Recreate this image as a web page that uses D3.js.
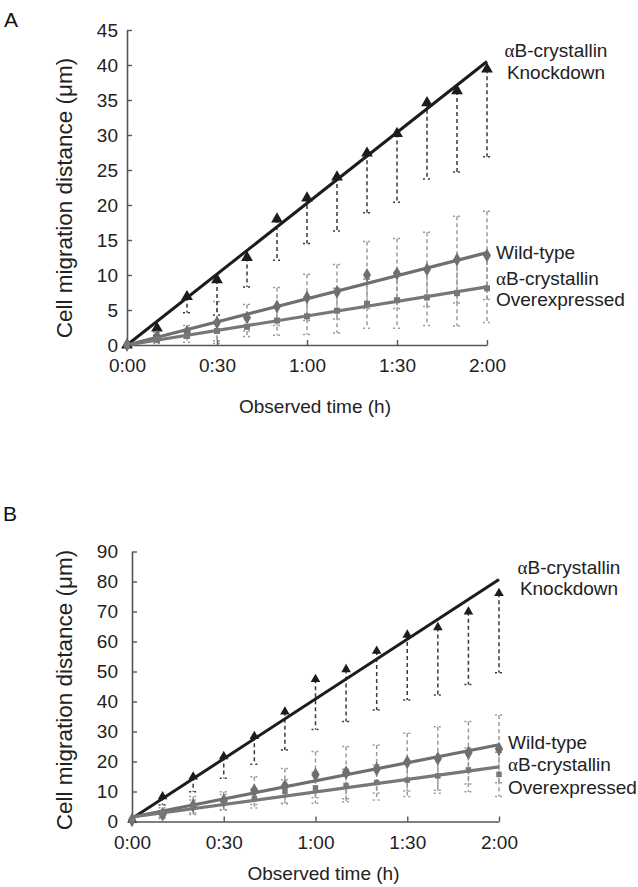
<!DOCTYPE html>
<html>
<head>
<meta charset="utf-8">
<script src="https://cdn.jsdelivr.net/npm/d3@7"></script>
<style>
  body { margin: 0; background: #fff; }
  svg { display: block; font-family: "Liberation Sans", Arial, sans-serif; }
</style>
</head>
<body>
<svg id="chart" width="638" height="887"></svg>
<script>
// ---- data (minutes after start) ----
const minutes = [0, 10, 20, 30, 40, 50, 60, 70, 80, 90, 100, 110, 120];
const xTickValues = [0, 30, 60, 90, 120];
const xTickLabels = ["0:00", "0:30", "1:00", "1:30", "2:00"];
const yTicksA = [0, 5, 10, 15, 20, 25, 30, 35, 40, 45];
const yTicksB = [0, 10, 20, 30, 40, 50, 60, 70, 80, 90];
const seriesNames = ["Knockdown", "Wild-type", "Overexpressed"];

// Panel A
const knockdownA   = [0, 2.4, 6.9, 9.3, 12.5, 18.0, 21.0, 24.0, 27.4, 30.2, 34.6, 36.3, 39.4];
const knockdownSdA = [0, 1.0, 2.3, 5.0, 4.2, 5.9, 6.5, 7.7, 8.5, 9.8, 10.9, 11.6, 12.5];
const wildTypeA    = [0, 1.2, 1.9, 3.2, 3.9, 5.5, 6.8, 7.6, 10.0, 10.2, 10.8, 12.2, 12.8];
const wildTypeSdA  = [0, 0.6, 0.9, 3.0, 1.9, 2.7, 3.3, 3.9, 4.8, 5.0, 5.3, 6.2, 6.3];
const overexpA     = [0, 0.7, 1.3, 2.0, 2.6, 3.5, 4.1, 4.9, 5.9, 6.4, 6.8, 7.4, 8.1];
const overexpSdA   = [0, 0.5, 0.9, 1.4, 1.4, 2.1, 2.6, 3.2, 3.5, 4.0, 4.0, 4.7, 4.9];
const fitStartA    = [0, 0, 0];
const fitEndA      = [40.5, 13.2, 8.3];

// Panel B
const knockdownB   = [0.5, 8.3, 14.9, 21.7, 28.4, 36.6, 47.4, 50.7, 56.8, 62.2, 64.7, 69.9, 76.1];
const knockdownSdB = [0, 2.8, 5.0, 7.3, 9.3, 12.8, 16.7, 17.4, 19.6, 21.7, 22.5, 24.2, 26.5];
const wildTypeB    = [0.5, 2.4, 5.3, 6.9, 10.3, 11.8, 15.6, 16.3, 17.5, 19.8, 21.0, 22.9, 24.2];
const wildTypeSdB  = [0, 1.0, 3.0, 3.0, 4.6, 5.9, 7.7, 8.7, 8.0, 9.6, 10.6, 10.4, 11.3];
const overexpB     = [0.5, 2.8, 5.0, 6.4, 7.7, 10.0, 11.2, 12.0, 13.0, 13.8, 15.2, 17.2, 15.7];
const overexpSdB   = [0, 1.8, 2.2, 2.6, 3.2, 3.9, 5.1, 5.4, 5.8, 5.5, 5.8, 7.3, 7.4];
const fitStartB    = [1.0, 1.5, 1.5];
const fitEndB      = [80.7, 25.6, 18.2];

// ---- drawing ----
const svg = d3.select("#chart");
const DARK = "#1c1c1c", GRAY = "#6f6f6f", BAR_DARK = "#3a3a3a", BAR_GRAY = "#9a9a9a";

function drawPanel(p) {
  const x = d3.scaleLinear().domain([0, 120]).range(p.xRange);
  const y = d3.scaleLinear().domain([0, p.yMax]).range(p.yRange);
  const g = svg.append("g");

  // panel letter
  g.append("text").attr("x", p.letter[1]).attr("y", p.letter[2])
    .attr("font-size", 21).attr("fill", "#111").text(p.letter[0]);

  // axes
  const yAxis = d3.axisLeft(y).tickValues(p.yTicks).tickSize(-5).tickSizeOuter(0).tickPadding(p.yPad);
  const xAxis = d3.axisBottom(x).tickValues(xTickValues).tickSize(-5).tickSizeOuter(0).tickPadding(14)
    .tickFormat((d, i) => xTickLabels[i]);
  const ya = g.append("g").attr("transform", `translate(${p.xRange[0]},0)`).call(yAxis);
  const xa = g.append("g").attr("transform", `translate(0,${p.yRange[0]})`).call(xAxis);
  [ya, xa].forEach(a => {
    a.select(".domain").attr("stroke", "#555").attr("stroke-width", 1.6);
    a.selectAll(".tick line").attr("stroke", "#555").attr("stroke-width", 1.4);
    a.selectAll(".tick text").attr("font-size", 19).attr("fill", "#222")
      .attr("font-family", "Liberation Sans, Arial, sans-serif");
  });

  // axis titles
  g.append("text").attr("transform", `translate(${p.yTitle[0]},${p.yTitle[1]}) rotate(-90)`)
    .attr("text-anchor", "middle").attr("font-size", 22.5).attr("fill", "#222")
    .text("Cell migration distance (μm)");
  g.append("text").attr("x", (p.xRange[0] + p.xRange[1]) / 2 + 8).attr("y", p.xTitleY)
    .attr("text-anchor", "middle").attr("font-size", 19).attr("fill", "#222")
    .text("Observed time (h)");

  const series = [
    { v: p.kd, sd: p.kdSd, color: DARK, bar: BAR_DARK, sym: d3.symbolTriangle, size: p.triSize, up: false },
    { v: p.wt, sd: p.wtSd, color: GRAY, bar: BAR_GRAY, sym: d3.symbolDiamond, size: p.diaSize, up: true },
    { v: p.oe, sd: p.oeSd, color: "#777", bar: BAR_GRAY, sym: d3.symbolSquare, size: p.sqSize, up: true }
  ];

  // error bars (dashed)
  const capW = 4;
  series.slice().reverse().forEach(s => {
    minutes.forEach((m, i) => {
      if (!s.sd[i]) return;
      const lo = s.v[i] - s.sd[i], hi = s.up ? s.v[i] + s.sd[i] : s.v[i];
      const xx = x(m);
      g.append("line").attr("x1", xx).attr("x2", xx).attr("y1", y(hi)).attr("y2", y(lo))
        .attr("stroke", s.bar).attr("stroke-width", 1.5).attr("stroke-dasharray", "4,3");
      const caps = s.up ? [lo, hi] : [lo];
      caps.forEach(c => {
        g.append("line").attr("x1", xx - capW).attr("x2", xx + capW).attr("y1", y(c)).attr("y2", y(c))
          .attr("stroke", s.bar).attr("stroke-width", 1.5).attr("stroke-dasharray", "2,3");
      });
    });
  });

  // fitted lines
  series.forEach((s, k) => {
    g.append("line").attr("x1", x(0)).attr("y1", y(p.fitStart[k]))
      .attr("x2", x(120)).attr("y2", y(p.fitEnd[k]))
      .attr("stroke", s.color).attr("stroke-width", k === 0 ? 3 : 3.2);
  });

  // markers
  series.forEach(s => {
    g.selectAll(null).data(minutes).enter().append("path")
      .attr("d", d3.symbol().type(s.sym).size(s.size))
      .attr("transform", (m, i) => `translate(${x(m)},${y(s.v[i])})`)
      .attr("fill", s.color);
  });

  // series labels
  p.labels.forEach(l => {
    const t = g.append("text").attr("x", l[0]).attr("y", l[1]).attr("font-size", 19)
      .attr("fill", "#222").attr("text-anchor", l[3] || "start");
    if (l[2].startsWith("α")) {
      t.append("tspan").attr("font-family", "Liberation Serif, Times New Roman, serif").text("α");
      t.append("tspan").text(l[2].slice(1));
    } else t.text(l[2]);
  });
}

drawPanel({
  letter: ["A", 4, 27], xRange: [127, 487], yRange: [345, 30], yMax: 45, yTicks: yTicksA, yPad: 9,
  yTitle: [72, 198], xTitleY: 413,
  kd: knockdownA, kdSd: knockdownSdA, wt: wildTypeA, wtSd: wildTypeSdA, oe: overexpA, oeSd: overexpSdA,
  fitStart: fitStartA, fitEnd: fitEndA, triSize: 60, diaSize: 55, sqSize: 36,
  labels: [[556, 57, "αB-crystallin", "middle"], [556, 79, seriesNames[0], "middle"],
           [496, 259, seriesNames[1]], [496, 285, "αB-crystallin"], [496, 306, seriesNames[2]]]
});

drawPanel({
  letter: ["B", 3, 521], xRange: [132, 499], yRange: [821.5, 551.5], yMax: 90, yTicks: yTicksB, yPad: 14,
  yTitle: [72, 690], xTitleY: 880,
  kd: knockdownB, kdSd: knockdownSdB, wt: wildTypeB, wtSd: wildTypeSdB, oe: overexpB, oeSd: overexpSdB,
  fitStart: fitStartB, fitEnd: fitEndB, triSize: 40, diaSize: 60, sqSize: 30,
  labels: [[569, 574, "αB-crystallin", "middle"], [569, 595, seriesNames[0], "middle"],
           [508, 749, seriesNames[1]], [508, 771, "αB-crystallin"], [508, 794, seriesNames[2]]]
});
</script>
</body>
</html>
